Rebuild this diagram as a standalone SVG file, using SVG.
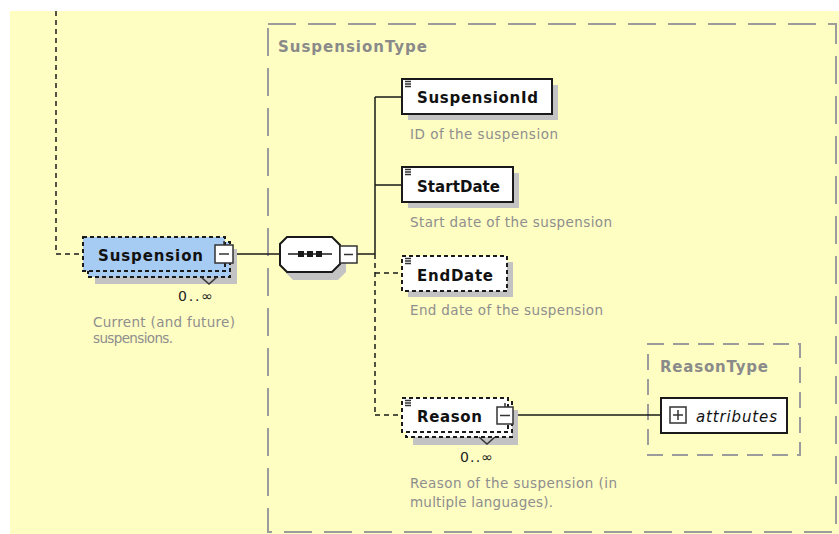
<svg xmlns="http://www.w3.org/2000/svg" width="839" height="534" viewBox="0 0 839 534">
  <style>
    .lbl { font-family: "DejaVu Sans", "Liberation Sans", sans-serif; font-weight: bold; font-size: 15px; fill: #111; }
    .ttl { font-family: "DejaVu Sans", "Liberation Sans", sans-serif; font-weight: bold; font-size: 15px; fill: #8a8a8a; }
    .dsc { font-family: "DejaVu Sans", "Liberation Sans", sans-serif; font-size: 13.5px; fill: #8e8e8e; }
    .occ { font-family: "DejaVu Sans", "Liberation Sans", sans-serif; font-size: 14px; fill: #222; }
    .att { font-family: "DejaVu Sans", "Liberation Sans", sans-serif; font-style: italic; font-size: 15px; fill: #111; }
    .box { fill: #ffffff; stroke: #1a1a1a; stroke-width: 2; }
    .opt { fill: #ffffff; stroke: #1a1a1a; stroke-width: 2; stroke-dasharray: 4 3; }
    .sel { fill: #a7ccf4; stroke: #1a1a1a; stroke-width: 2; stroke-dasharray: 4 3; }
    .shd { fill: #c3c3c3; }
    .btn { fill: #ffffff; stroke: #333; stroke-width: 1.5; }
    .ico { stroke: #333; stroke-width: 1.5; fill: none; }
    .grp { fill: none; stroke: #9c9c9c; stroke-width: 2; stroke-dasharray: 28 12; }
    .grp2 { fill: none; stroke: #9c9c9c; stroke-width: 2; stroke-dasharray: 16 9; }
    .ln { fill: none; stroke: #1a1a1a; stroke-width: 1.5; }
    .dl { fill: none; stroke: #1a1a1a; stroke-width: 1.5; stroke-dasharray: 5 4; }
  </style>

  <!-- canvas -->
  <rect x="10" y="11" width="829" height="523" fill="#fefdc2"/>

  <!-- complex type containers -->
  <g id="SuspensionType">
    <rect class="grp" x="268" y="24" width="568" height="508"/>
    <text class="ttl" x="278" y="52" textLength="149">SuspensionType</text>
  </g>
  <g id="ReasonType">
    <rect class="grp2" x="648" y="344" width="152" height="111"/>
    <text class="ttl" x="660" y="372" textLength="108">ReasonType</text>
  </g>

  <!-- connectors -->
  <g id="connectors">
    <path class="dl" d="M56,11 V254 H83"/>
    <path class="ln" d="M233,254 H280"/>
    <path class="ln" d="M357,254 H375"/>
    <path class="ln" d="M375,97 V254 M375,97 H402 M375,185 H402"/>
    <path class="dl" d="M375,254 V415 M375,273 H402 M375,415 H402"/>
    <path class="ln" d="M513,415 H661"/>
  </g>

  <!-- Suspension element (0..unbounded) -->
  <g id="Suspension">
    <rect class="shd" x="95" y="249" width="142" height="35"/>
    <rect class="sel" x="88" y="242" width="142" height="35"/>
    <rect class="sel" x="83" y="237" width="142" height="34"/>
    <text class="lbl" x="98" y="261" textLength="105">Suspension</text>
    <path class="ico" d="M224,241 V245"/>
    <rect class="btn" x="215" y="245" width="18" height="18"/>
    <path class="ico" d="M219,254 H229"/>
    <polyline class="ico" points="201,277 209,284 217,277"/>
    <text class="occ" x="178" y="301" textLength="35">0..∞</text>
    <text class="dsc" x="93" y="327" textLength="142">Current (and future)</text>
    <text class="dsc" x="93" y="343" textLength="80">suspensions.</text>
  </g>

  <!-- sequence compositor -->
  <g id="sequence">
    <polygon class="shd" points="293,245 338,245 346,253 346,272 338,280 293,280 286,273 286,252"/>
    <polygon class="box" points="287,237 332,237 340,245 340,264 332,272 287,272 280,265 280,244"/>
    <path class="ln" d="M288,254 H332"/>
    <rect x="298" y="251" width="6" height="6" fill="#1a1a1a"/>
    <rect x="307" y="251" width="6" height="6" fill="#1a1a1a"/>
    <rect x="316" y="251" width="6" height="6" fill="#1a1a1a"/>
    <rect class="btn" x="340" y="246" width="17" height="17"/>
    <path class="ico" d="M344,254.5 H353"/>
  </g>

  <!-- SuspensionId -->
  <g id="SuspensionId">
    <rect class="shd" x="408" y="85" width="150" height="35"/>
    <rect class="box" x="402" y="79" width="150" height="35"/>
    <path class="ico" d="M405,81.5 H411 M405,84 H411 M405,86.5 H411" stroke-width="1"/>
    <text class="lbl" x="417" y="103" textLength="121">SuspensionId</text>
    <text class="dsc" x="410" y="139" textLength="148">ID of the suspension</text>
  </g>

  <!-- StartDate -->
  <g id="StartDate">
    <rect class="shd" x="408" y="173" width="111" height="35"/>
    <rect class="box" x="402" y="167" width="111" height="35"/>
    <path class="ico" d="M405,169.5 H411 M405,172 H411 M405,174.5 H411" stroke-width="1"/>
    <text class="lbl" x="417" y="192" textLength="83">StartDate</text>
    <text class="dsc" x="410" y="227" textLength="202">Start date of the suspension</text>
  </g>

  <!-- EndDate (optional) -->
  <g id="EndDate">
    <rect class="shd" x="408" y="262" width="105" height="35"/>
    <rect class="opt" x="402" y="256" width="105" height="35"/>
    <path class="ico" d="M405,258.5 H411 M405,261 H411 M405,263.5 H411" stroke-width="1"/>
    <text class="lbl" x="417" y="281" textLength="76">EndDate</text>
    <text class="dsc" x="410" y="315" textLength="193">End date of the suspension</text>
  </g>

  <!-- Reason (0..unbounded) -->
  <g id="Reason">
    <rect class="shd" x="413" y="410" width="105" height="35"/>
    <rect class="opt" x="406" y="402" width="106" height="35"/>
    <rect class="opt" x="402" y="398" width="106" height="34"/>
    <path class="ico" d="M405,400.5 H411 M405,403 H411 M405,405.5 H411" stroke-width="1"/>
    <text class="lbl" x="417" y="422" textLength="65">Reason</text>
    <path class="ico" d="M505,403 V407"/>
    <rect class="btn" x="497" y="407" width="16" height="17"/>
    <path class="ico" d="M500,415.5 H510"/>
    <polyline class="ico" points="479,437 487,444 495,437"/>
    <text class="occ" x="460" y="462" textLength="33">0..∞</text>
    <text class="dsc" x="410" y="488" textLength="207">Reason of the suspension (in</text>
    <text class="dsc" x="410" y="507" textLength="143">multiple languages).</text>
  </g>

  <!-- attributes of ReasonType -->
  <g id="attributes">
    <rect class="box" x="661" y="398" width="126" height="35"/>
    <rect class="btn" x="670" y="407" width="16" height="16"/>
    <path class="ico" d="M673,415 H683 M678,410 V420"/>
    <text class="att" x="696" y="422" textLength="81">attributes</text>
  </g>
</svg>
